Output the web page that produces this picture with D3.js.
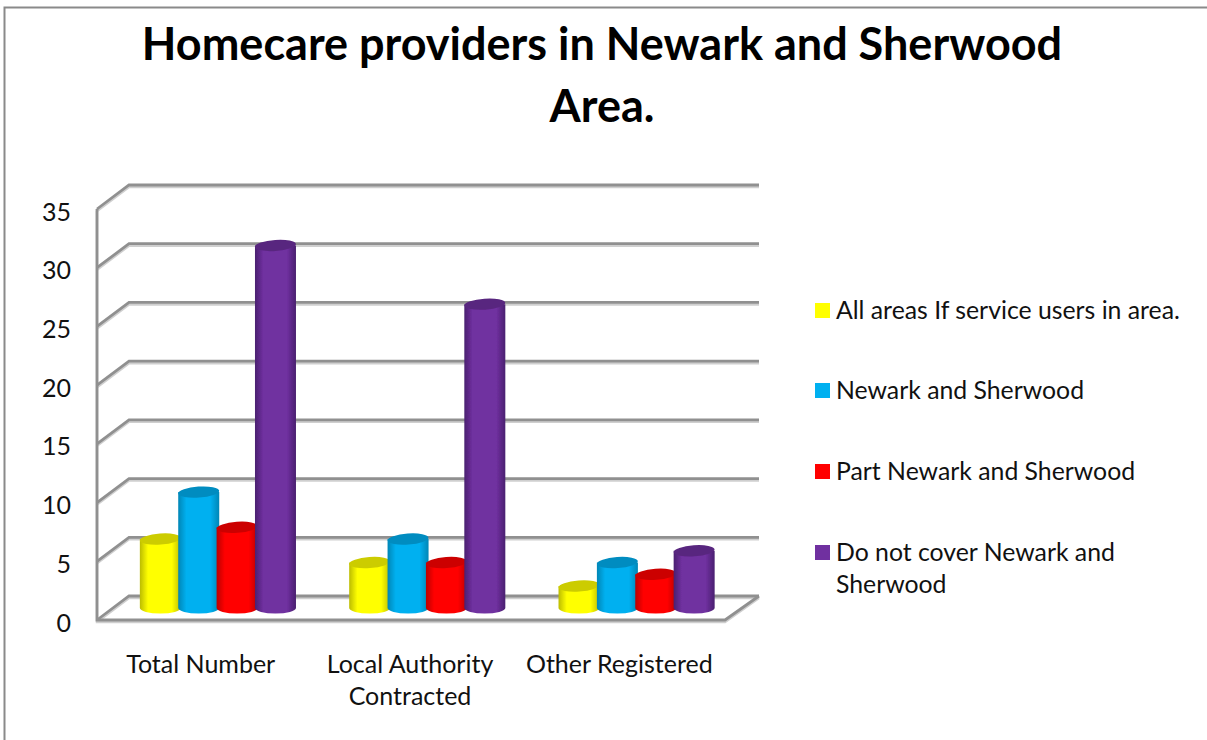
<!DOCTYPE html>
<html><head><meta charset="utf-8">
<script src="https://cdnjs.cloudflare.com/ajax/libs/d3/7.8.5/d3.min.js"></script>
<style>html,body{margin:0;padding:0;background:#fff;overflow:hidden}svg{display:block}text{font-family:Lato,"Open Sans",sans-serif;fill:#111}</style>
</head><body><svg id="c" width="1207" height="740"></svg>
<script>
const titleLines=["Homecare providers in Newark and Sherwood","Area."];
const categories=["Total Number","Local Authority Contracted","Other Registered"];
const seriesNames=["All areas If service users in area.","Newark and Sherwood","Part Newark and Sherwood","Do not cover Newark and Sherwood"];
const allAreas=[6,4,2];
const newark=[10,6,4];
const partNewark=[7,4,3];
const notCover=[31,26,5];
const seriesValues=[allAreas,newark,partNewark,notCover];
const colors=["#ffff00","#00b0f0","#ff0000","#7030a0"];
const darkColors=["#cccc00","#008cc0","#cc0000","#59267f"];
const edgeColors=["#bcbc00","#0086b6","#bb0000","#4a2070"];
const yTicks=[0,5,10,15,20,25,30,35];

const svg=d3.select("#c");
const defs=svg.append("defs");
const depthX=32,depthY=24,frontL=97,frontR=727,front0=620,front35=209;
const y=d3.scaleLinear().domain([0,35]).range([front0,front35]);
const x=d3.scaleBand().domain(categories).range([frontL,frontR-2]);
const inner=d3.scaleBand().domain(seriesNames).range([-76.5,77]);
const barW=41,rx=barW/2,ry=5.5;

colors.forEach((c,i)=>{
  const g=defs.append("linearGradient").attr("id","g"+i);
  [[0,edgeColors[i]],[.2,c],[.78,c],[1,edgeColors[i]]].forEach(s=>g.append("stop").attr("offset",s[0]).attr("stop-color",s[1]));
});
defs.append("filter").attr("id","soft").append("feGaussianBlur").attr("stdDeviation",.6);

// frame
svg.append("path").attr("d","M4.5,740V7.5H1207").attr("fill","none").attr("stroke","#8a8a8a").attr("stroke-width",2);

// title
svg.append("g").selectAll("text").data(titleLines).join("text")
 .attr("x",602).attr("y",(d,i)=>60+i*62).attr("text-anchor","middle")
 .attr("font-size",45).attr("font-weight",700).style("fill","#000").text(d=>d);

// walls
const grid=svg.append("g").attr("fill","none").attr("filter","url(#soft)");
function strokeBoth(sel){sel.clone(true).attr("stroke","#cfcfcf").attr("stroke-width",2.5).attr("transform","translate(0,2)").lower();sel.attr("stroke","#909090").attr("stroke-width",2.8);}
yTicks.forEach(t=>{
  strokeBoth(grid.append("path").attr("d",`M${frontL},${y(t)}L${frontL+depthX},${y(t)-depthY}H${frontR+depthX}`));
});
strokeBoth(grid.append("path").attr("d",`M${frontL},${y(35)}V${y(0)}H${frontR-2}L${frontR+depthX},${y(0)-depthY}`));

// bars
const bars=svg.append("g").attr("filter","url(#soft)");
const base=y(0)-depthY/2;
const pxPerUnit=y(0)-y(1);
const topInset=1.5;
categories.forEach((cat,ci)=>{
  seriesNames.forEach((s,si)=>{
    const cx=x(cat)+x.bandwidth()/2+depthX/2+inner(s)+inner.bandwidth()/2;
    const top=base-seriesValues[si][ci]*pxPerUnit+topInset;
    bars.append("path")
     .attr("d",`M${cx-rx},${top}V${base}A${rx},${ry} 0 0 0 ${cx+rx},${base}V${top}Z`)
     .attr("fill",`url(#g${si})`);
    bars.append("ellipse").attr("cx",cx).attr("cy",top).attr("rx",rx).attr("ry",ry)
     .attr("transform",`rotate(-4 ${cx} ${top})`).attr("fill",darkColors[si]);
  });
});

// axes
const yAxis=svg.append("g").attr("transform","translate(71,3)").call(d3.axisLeft(y).tickValues(yTicks).tickSize(0).tickPadding(0));
yAxis.select(".domain").remove();
yAxis.selectAll("text").attr("font-size",25);
yAxis.attr("font-family",null);

const xAxis=svg.append("g").attr("transform",`translate(-1,${front0})`).call(d3.axisBottom(x).tickSize(0).tickFormat(""));
xAxis.attr("font-family",null);
xAxis.select(".domain").remove();
const catLines=d=>d==="Local Authority Contracted"?["Local Authority","Contracted"]:[d];
xAxis.selectAll(".tick text").each(function(d){
  const t=d3.select(this).attr("font-size",25).attr("y",0).attr("dy",null).text(null);
  catLines(d).forEach((l,i)=>t.append("tspan").attr("x",0).attr("y",52.5+i*32).text(l));
});

// legend
const legendY=[310,390,471,552];
const legendLines=d=>d==="Do not cover Newark and Sherwood"?["Do not cover Newark and","Sherwood"]:[d];
const leg=svg.append("g").selectAll("g").data(seriesNames).join("g").attr("transform",(d,i)=>`translate(815,${legendY[i]})`);
leg.append("rect").attr("x",0).attr("y",-7).attr("width",15).attr("height",15).attr("fill",(d,i)=>colors[i]);
leg.each(function(d){
  const t=d3.select(this).append("text").attr("font-size",24.8);
  legendLines(d).forEach((l,i)=>t.append("tspan").attr("x",21).attr("y",8.5+i*32).text(l));
});
</script></body></html>
